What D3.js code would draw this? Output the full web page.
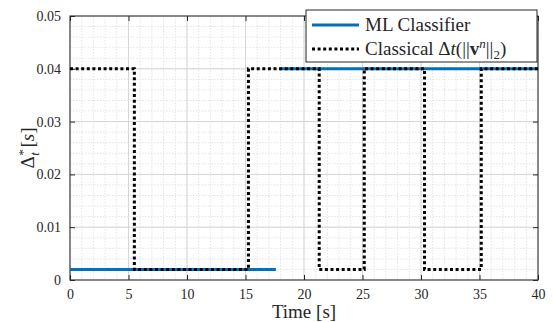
<!DOCTYPE html>
<html>
<head>
<meta charset="utf-8">
<script src="https://cdn.jsdelivr.net/npm/d3@7"></script>
<style>
  body { margin: 0; background: #fff; }
  svg text { font-family: "Liberation Serif", "Times New Roman", serif; fill: #262626; }
</style>
</head>
<body>
<div id="chart"></div>
<script>
// ML classifier output: two flat pieces, with a gap where it switches
const mlTime = [0, 17.6, 17.6, 17.9, 40];
const mlValue = [0.002, 0.002, null, 0.04, 0.04];

// classical step size: switch instants and the level held after each switch
const classicalSwitch = [0, 5.5, 15.25, 21.3, 25.15, 30.3, 35.15, 40];
const classicalLevel = [0.04, 0.002, 0.04, 0.002, 0.04, 0.002, 0.04, 0.04];

const xTicks = [0, 5, 10, 15, 20, 25, 30, 35, 40];
const yTicks = [0, 0.01, 0.02, 0.03, 0.04, 0.05];
const yTickLabels = ["0", "0.01", "0.02", "0.03", "0.04", "0.05"];

const width = 553, height = 322;
const margin = {top: 16, right: 15, bottom: 42, left: 70};
const innerWidth = width - margin.left - margin.right;
const innerHeight = height - margin.top - margin.bottom;
const serif = '"Liberation Serif", "Times New Roman", serif';

const svg = d3.select("#chart").append("svg")
    .attr("width", width)
    .attr("height", height);

const chart = svg.append("g")
    .attr("transform", `translate(${margin.left}, ${margin.top})`);

const x = d3.scaleLinear().domain([0, 40]).range([0, innerWidth]);
const y = d3.scaleLinear().domain([0, 0.05]).range([innerHeight, 0]);

// minor grid (1 s, 0.002)
const xMinor = d3.range(0, 40.001, 1);
const yMinor = d3.range(0, 0.05001, 0.002);
chart.append("g").selectAll("line").data(xMinor).join("line")
    .attr("x1", d => x(d)).attr("x2", d => x(d))
    .attr("y1", 0).attr("y2", innerHeight)
    .attr("stroke", "#e4e4e4").attr("stroke-dasharray", "1.5,1.5");
chart.append("g").selectAll("line").data(yMinor).join("line")
    .attr("x1", 0).attr("x2", innerWidth)
    .attr("y1", d => y(d)).attr("y2", d => y(d))
    .attr("stroke", "#e4e4e4").attr("stroke-dasharray", "1.5,1.5");

// major grid
chart.append("g").selectAll("line").data(xTicks).join("line")
    .attr("x1", d => x(d)).attr("x2", d => x(d))
    .attr("y1", 0).attr("y2", innerHeight)
    .attr("stroke", "#d6d6d6");
chart.append("g").selectAll("line").data(yTicks).join("line")
    .attr("x1", 0).attr("x2", innerWidth)
    .attr("y1", d => y(d)).attr("y2", d => y(d))
    .attr("stroke", "#d6d6d6");

// axes, ticks inward on all four sides
const xAxis = d3.axisBottom(x).tickValues(xTicks).tickSize(-5).tickPadding(9);
const yAxis = d3.axisLeft(y).tickValues(yTicks).tickSize(-5).tickPadding(9)
    .tickFormat((d, i) => yTickLabels[i]);

chart.append("g").attr("class", "axis")
    .attr("transform", `translate(0, ${innerHeight})`).call(xAxis);
chart.append("g").attr("class", "axis").call(yAxis);
chart.append("g").attr("class", "axis mirror")
    .call(d3.axisTop(x).tickValues(xTicks).tickSize(-5));
chart.append("g").attr("class", "axis mirror")
    .attr("transform", `translate(${innerWidth}, 0)`)
    .call(d3.axisRight(y).tickValues(yTicks).tickSize(-5));

svg.selectAll(".mirror text").remove();
svg.selectAll(".axis").attr("font-family", serif).attr("font-size", 14);
svg.selectAll(".axis line").attr("stroke", "#262626");
svg.selectAll(".axis path").remove();
svg.selectAll(".axis text")
    .style("font-family", serif)
    .style("font-size", "14px")
    .attr("fill", "#262626");

chart.append("rect")
    .attr("width", innerWidth).attr("height", innerHeight)
    .attr("fill", "none").attr("stroke", "#262626").attr("stroke-width", 1);

// series
const mlData = mlTime.map((t, i) => ({t: t, v: mlValue[i]}));
const mlLine = d3.line()
    .defined(d => d.v != null)
    .x(d => x(d.t)).y(d => y(d.v));
chart.append("path")
    .datum(mlData)
    .attr("d", mlLine)
    .attr("fill", "none")
    .attr("stroke", "#0072BD")
    .attr("stroke-width", 3);

const classicalData = classicalSwitch.map((t, i) => ({t: t, v: classicalLevel[i]}));
const stepLine = d3.line()
    .curve(d3.curveStepAfter)
    .x(d => x(d.t)).y(d => y(d.v));
chart.append("path")
    .datum(classicalData)
    .attr("d", stepLine)
    .attr("fill", "none")
    .attr("stroke", "#000")
    .attr("stroke-width", 3)
    .attr("stroke-dasharray", "3,2.6");

// axis labels
svg.append("text")
    .attr("x", margin.left + innerWidth / 2)
    .attr("y", 318)
    .attr("text-anchor", "middle")
    .style("font-size", "19px")
    .text("Time [s]");

const yLabel = svg.append("text")
    .attr("transform", `translate(34, ${margin.top + innerHeight / 2}) rotate(-90)`)
    .attr("text-anchor", "middle")
    .style("font-size", "19px");
yLabel.append("tspan").text("Δ");
yLabel.append("tspan").attr("dy", -7).style("font-size", "13px").style("font-style", "italic").text("*");
yLabel.append("tspan").attr("dx", -6).attr("dy", 12).style("font-size", "13px").style("font-style", "italic").text("t");
yLabel.append("tspan").attr("dy", -5).text(" [");
yLabel.append("tspan").style("font-style", "italic").text("s");
yLabel.append("tspan").text("]");

// legend
const legend = svg.append("g").attr("transform", "translate(306, 10)");
legend.append("rect")
    .attr("width", 231).attr("height", 52)
    .attr("fill", "#fff").attr("stroke", "#262626").attr("stroke-width", 1);
legend.append("line")
    .attr("x1", 6).attr("x2", 53).attr("y1", 15).attr("y2", 15)
    .attr("stroke", "#0072BD").attr("stroke-width", 3);
legend.append("line")
    .attr("x1", 6).attr("x2", 53).attr("y1", 39).attr("y2", 39)
    .attr("stroke", "#000").attr("stroke-width", 3).attr("stroke-dasharray", "3,2.6");
legend.append("text")
    .attr("x", 59).attr("y", 21)
    .style("font-size", "19px")
    .text("ML Classifier");
const cl = legend.append("text")
    .attr("x", 59).attr("y", 45)
    .style("font-size", "19px");
cl.append("tspan").text("Classical Δ");
cl.append("tspan").style("font-style", "italic").text("t");
cl.append("tspan").text("(||");
cl.append("tspan").style("font-weight", "bold").text("v");
cl.append("tspan").attr("dy", -7).style("font-size", "13px").style("font-style", "italic").text("n");
cl.append("tspan").attr("dy", 7).text("||");
cl.append("tspan").attr("dy", 4).style("font-size", "13px").text("2");
cl.append("tspan").attr("dy", -4).text(")");
</script>
</body>
</html>
